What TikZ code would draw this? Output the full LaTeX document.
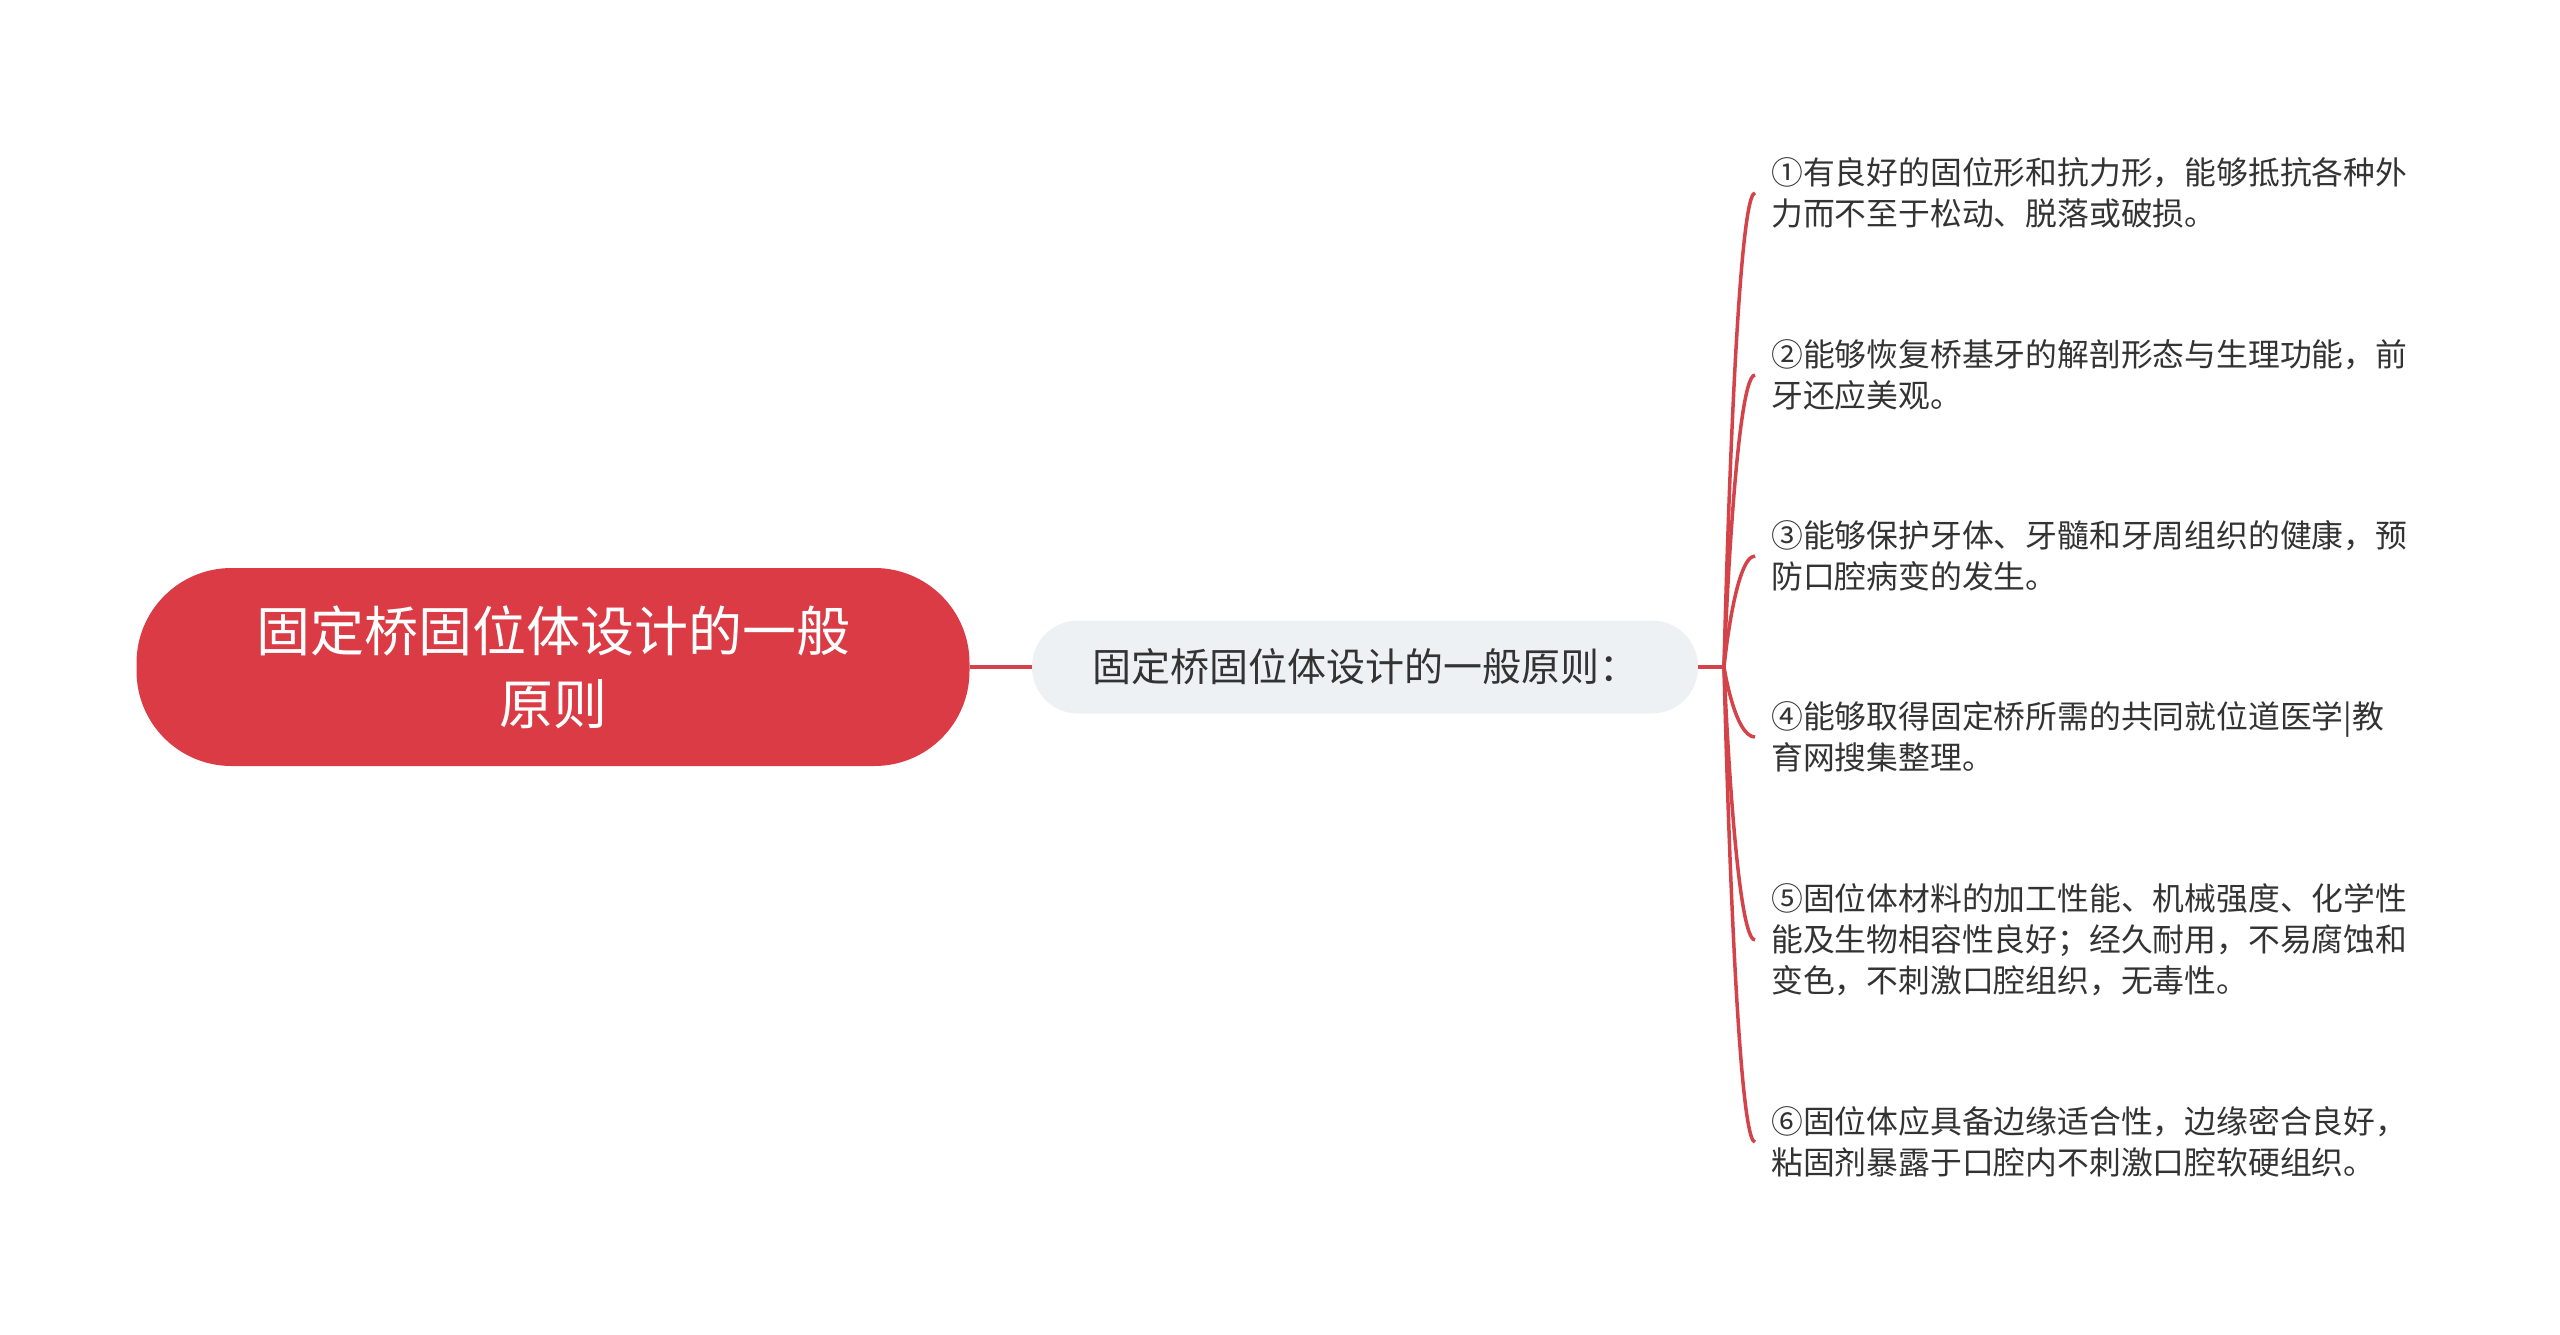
\documentclass[tikz,border=0pt]{standalone}
\usepackage{fontspec}
\setmainfont{Noto Sans CJK SC}
\usetikzlibrary{calc}
\definecolor{rootred}{HTML}{DB3B44}
\definecolor{linered}{HTML}{D4434A}
\definecolor{midgray}{HTML}{EEF1F4}
\definecolor{txt}{HTML}{333333}
\begin{document}
\begin{tikzpicture}[x=1pt,y=-1pt,
 rootbox/.style={fill=rootred, rounded corners=95pt, minimum width=833pt, minimum height=198pt, text=white, font=\fontsize{54}{73}\selectfont, align=center, inner sep=0pt},
 midbox/.style={fill=midgray, rounded corners=46pt, minimum width=666pt, minimum height=93pt, text=txt, font=\fontsize{39}{47}\selectfont, inner sep=0pt},
 leafbox/.style={anchor=west, text=txt, font=\fontsize{31.8}{41}\selectfont, align=left, inner xsep=16pt, inner ysep=0pt},
 link/.style={draw=linered, line width=3.5pt}]
\useasboundingbox (0,0) rectangle (2560,1335);
\node[rootbox] (root) at (553,667) {固定桥固位体设计的一般\\原则};
\node[midbox] (mid) at (1365,667) {固定桥固位体设计的一般原则：};
\coordinate (br) at (1724,667);
\node[leafbox] (l1) at (1755,193) {①有良好的固位形和抗力形，能够抵抗各种外\\力而不至于松动、脱落或破损。};
\node[leafbox] (l2) at (1755,375) {②能够恢复桥基牙的解剖形态与生理功能，前\\牙还应美观。};
\node[leafbox] (l3) at (1755,556) {③能够保护牙体、牙髓和牙周组织的健康，预\\防口腔病变的发生。};
\node[leafbox] (l4) at (1755,737) {④能够取得固定桥所需的共同就位道医学|教\\育网搜集整理。};
\node[leafbox] (l5) at (1755,940) {⑤固位体材料的加工性能、机械强度、化学性\\能及生物相容性良好；经久耐用，不易腐蚀和\\变色，不刺激口腔组织，无毒性。};
\node[leafbox] (l6) at (1755,1142) {⑥固位体应具备边缘适合性，边缘密合良好，\\粘固剂暴露于口腔内不刺激口腔软硬组织。};
\draw[link] (root.east) -- (mid.west);
\draw[link] (mid.east) -- (br);
\foreach \l in {l1,l2,l3,l4,l5,l6}{
  \draw[link] (br) .. controls (br) and ($(br |- \l.west)!0.35!(\l.west)$) .. (\l.west);
}
\end{tikzpicture}
\end{document}
